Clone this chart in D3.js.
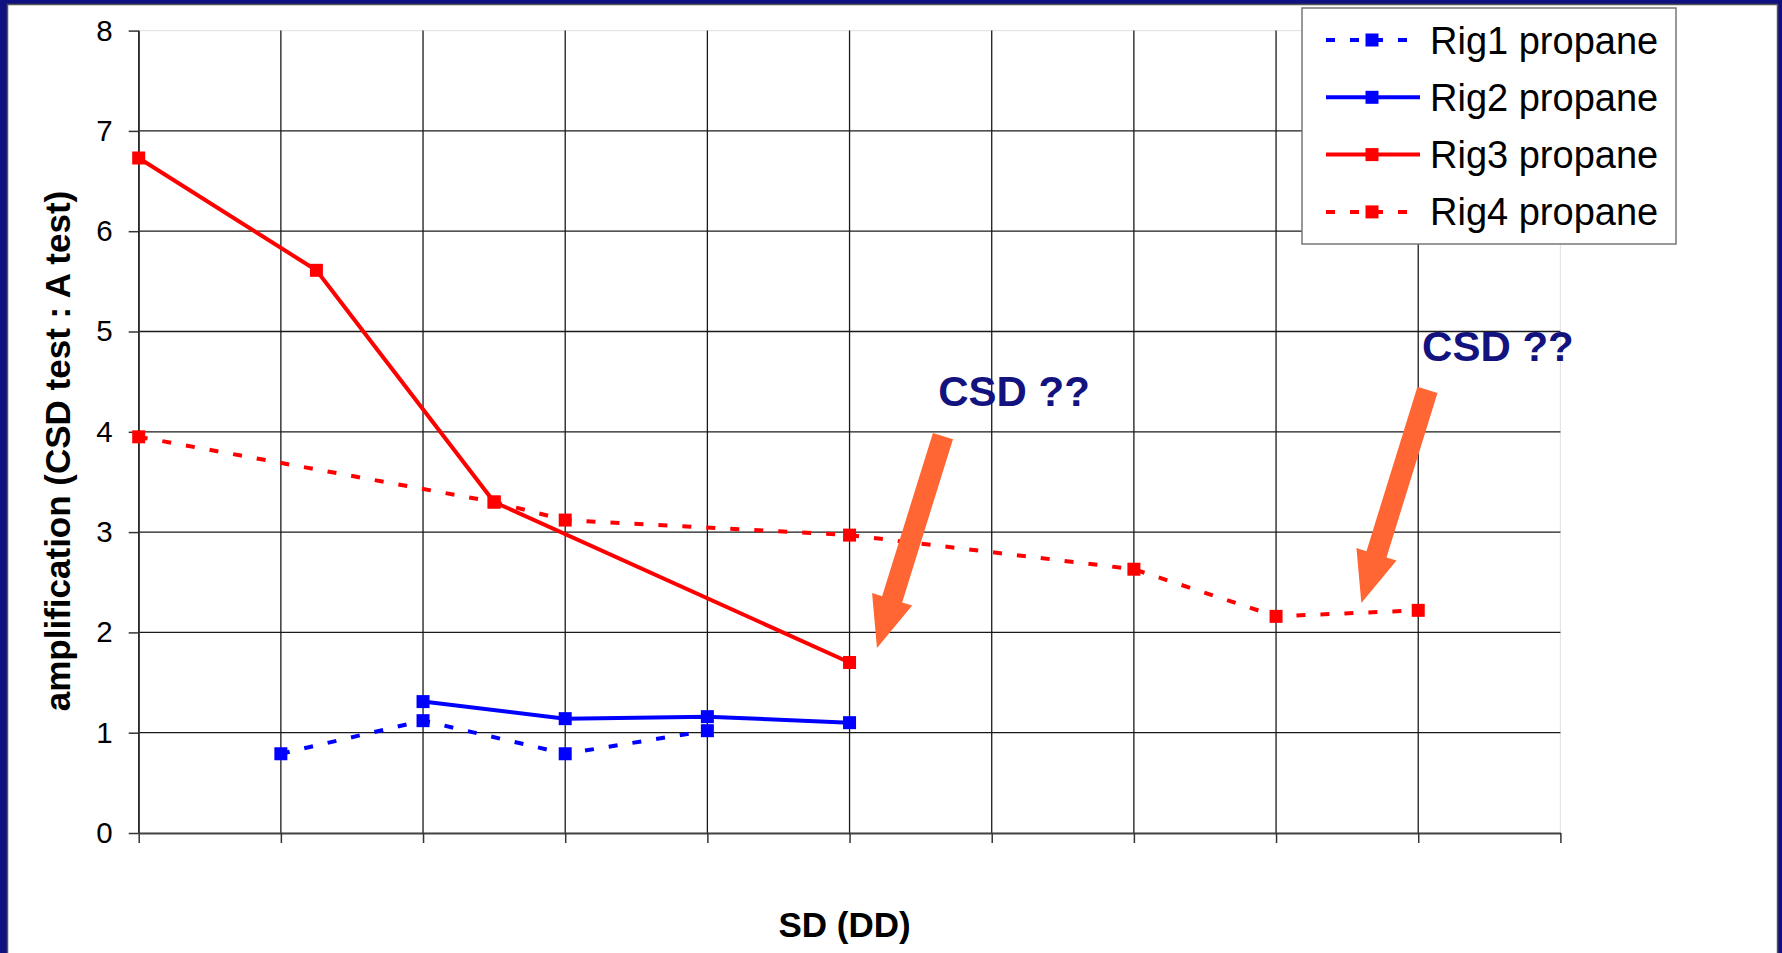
<!DOCTYPE html>
<html>
<head>
<meta charset="utf-8">
<script src="https://cdn.jsdelivr.net/npm/d3@7"></script>
<style>
  html, body { margin: 0; padding: 0; background: #10107f; overflow: hidden; }
  svg { display: block; font-family: "Liberation Sans", Arial, sans-serif; }
</style>
</head>
<body>
<svg id="chart" width="1782" height="953"></svg>
<script>
// ---- data ----
const seriesNames = ["Rig1 propane", "Rig2 propane", "Rig3 propane", "Rig4 propane"];
const rig1X = [1, 2, 3, 4];
const rig1Y = [0.79, 1.12, 0.79, 1.02];
const rig2X = [2, 3, 4, 5];
const rig2Y = [1.31, 1.14, 1.16, 1.10];
const rig3X = [0, 1.25, 2.5, 5];
const rig3Y = [6.73, 5.61, 3.30, 1.70];
const rig4X = [0, 2.5, 3, 5, 7, 8, 9];
const rig4Y = [3.95, 3.30, 3.12, 2.97, 2.63, 2.16, 2.22];
const yTicks = [0, 1, 2, 3, 4, 5, 6, 7, 8];
const xTicks = [0, 1, 2, 3, 4, 5, 6, 7, 8, 9, 10];
const xTitle = "SD (DD)";
const yTitle = "amplification (CSD test : A test)";
const noteText = ["CSD ??", "CSD ??"];
const noteAnchor = [[5.624, 4.257], [9.027, 4.706]];
const arrowFrom = [[5.657, 3.958], [9.065, 4.417]];
const arrowTo = [[5.193, 1.844], [8.60, 2.293]];

// ---- layout ----
const W = 1782, H = 953;
const plot = { left: 138.7, right: 1560.4, top: 30.6, bottom: 833 };
const colors = ["#0000ff", "#0000ff", "#ff0000", "#ff0000"];
const dashed = [true, false, false, true];
const dashPattern = "9,15";

const svg = d3.select("#chart");

// page frame
svg.append("rect").attr("x", 0).attr("y", 0).attr("width", W).attr("height", H).attr("fill", "#10107f");
svg.append("rect").attr("x", 7.5).attr("y", 4.5).attr("width", W - 12).attr("height", H + 10)
  .attr("fill", "#ffffff").attr("stroke", "#555").attr("stroke-width", 1.5);

const x = d3.scaleLinear().domain([0, 10]).range([plot.left, plot.right]);
const y = d3.scaleLinear().domain([0, 8]).range([plot.bottom, plot.top]);

// plot border (light)
svg.append("rect").attr("x", plot.left).attr("y", plot.top)
  .attr("width", plot.right - plot.left).attr("height", plot.bottom - plot.top)
  .attr("fill", "none").attr("stroke", "#e4e4e4").attr("stroke-width", 1.2);

// gridlines
const g = svg.append("g");
g.selectAll(".hg").data(yTicks.filter(d => d > 0 && d < 8)).enter().append("line")
  .attr("x1", plot.left).attr("x2", plot.right)
  .attr("y1", d => y(d)).attr("y2", d => y(d))
  .attr("stroke", "#1a1a1a").attr("stroke-width", 1.3);
g.selectAll(".vg").data(xTicks.filter(d => d < 10)).enter().append("line")
  .attr("x1", d => x(d)).attr("x2", d => x(d))
  .attr("y1", plot.top).attr("y2", plot.bottom)
  .attr("stroke", "#1a1a1a").attr("stroke-width", 1.3);

// y axis
const yAxis = svg.append("g").attr("transform", `translate(${plot.left},0)`)
  .call(d3.axisLeft(y).tickValues(yTicks).tickSize(10).tickPadding(16).tickSizeOuter(0));
yAxis.select(".domain").attr("stroke", "#333").attr("stroke-width", 1.3);
yAxis.selectAll(".tick line").attr("stroke", "#333").attr("stroke-width", 1.5);
yAxis.selectAll(".tick text").attr("font-size", 29.5).attr("fill", "#000")
  .attr("font-family", "'Liberation Sans', Arial, sans-serif");

// x axis
const xAxis = svg.append("g").attr("transform", `translate(0,${plot.bottom})`)
  .call(d3.axisBottom(x).tickValues(xTicks).tickSize(10).tickSizeOuter(0).tickFormat(""));
xAxis.select(".domain").attr("stroke", "#444").attr("stroke-width", 2.2);
xAxis.selectAll(".tick line").attr("stroke", "#333").attr("stroke-width", 1.5);

// axis titles
svg.append("text").attr("x", (plot.left + plot.right) / 2 - 5).attr("y", 937)
  .attr("text-anchor", "middle").attr("font-size", 35).attr("font-weight", "bold")
  .attr("fill", "#000").text(xTitle);
svg.append("text").attr("transform", "translate(70,451) rotate(-90)")
  .attr("text-anchor", "middle").attr("font-size", 35).attr("font-weight", "bold")
  .attr("fill", "#000").text(yTitle);

// series
const series = [
  { name: seriesNames[0], xs: rig1X, ys: rig1Y },
  { name: seriesNames[1], xs: rig2X, ys: rig2Y },
  { name: seriesNames[2], xs: rig3X, ys: rig3Y },
  { name: seriesNames[3], xs: rig4X, ys: rig4Y }
];
const line = d3.line().x(d => x(d[0])).y(d => y(d[1]));
const MS = 13;
series.forEach((s, i) => {
  const pts = s.xs.map((xv, k) => [xv, s.ys[k]]);
  svg.append("path").datum(pts).attr("d", line).attr("fill", "none")
    .attr("stroke", colors[i]).attr("stroke-width", 4)
    .attr("stroke-dasharray", dashed[i] ? dashPattern : null);
  svg.selectAll(".m" + i).data(pts).enter().append("rect")
    .attr("x", d => x(d[0]) - MS / 2).attr("y", d => y(d[1]) - MS / 2)
    .attr("width", MS).attr("height", MS).attr("fill", colors[i]);
});

// annotations: arrows + text
const HW = 10.5, HHW = 21, HL = 51;
noteText.forEach((t, i) => {
  const T = [x(arrowFrom[i][0]), y(arrowFrom[i][1])];
  const P = [x(arrowTo[i][0]), y(arrowTo[i][1])];
  const dx = P[0] - T[0], dy = P[1] - T[1];
  const L = Math.hypot(dx, dy);
  const u = [dx / L, dy / L], n = [-u[1], u[0]];
  const B = [P[0] - u[0] * HL, P[1] - u[1] * HL];
  const pts = [
    [T[0] + n[0] * HW, T[1] + n[1] * HW],
    [B[0] + n[0] * HW, B[1] + n[1] * HW],
    [B[0] + n[0] * HHW, B[1] + n[1] * HHW],
    P,
    [B[0] - n[0] * HHW, B[1] - n[1] * HHW],
    [B[0] - n[0] * HW, B[1] - n[1] * HW],
    [T[0] - n[0] * HW, T[1] - n[1] * HW]
  ];
  svg.append("polygon").attr("points", pts.map(p => p.join(",")).join(" "))
    .attr("fill", "#ff6633");
  svg.append("text").attr("x", x(noteAnchor[i][0])).attr("y", y(noteAnchor[i][1]))
    .attr("font-size", 42).attr("font-weight", "bold").attr("fill", "#13137f").text(t);
});

// legend
const lg = svg.append("g");
lg.append("rect").attr("x", 1302).attr("y", 8).attr("width", 374).attr("height", 236)
  .attr("fill", "#fff").attr("stroke", "#777").attr("stroke-width", 1.5);
seriesNames.forEach((name, i) => {
  const cy = 40 + i * 57.3;
  lg.append("line").attr("x1", 1326).attr("x2", 1420).attr("y1", cy).attr("y2", cy)
    .attr("stroke", colors[i]).attr("stroke-width", 4)
    .attr("stroke-dasharray", dashed[i] ? dashPattern : null);
  lg.append("rect").attr("x", 1372 - MS / 2).attr("y", cy - MS / 2).attr("width", MS).attr("height", MS)
    .attr("fill", colors[i]);
  lg.append("text").attr("x", 1430).attr("y", cy + 13.5).attr("font-size", 38).attr("fill", "#000").text(name);
});
</script>
</body>
</html>
